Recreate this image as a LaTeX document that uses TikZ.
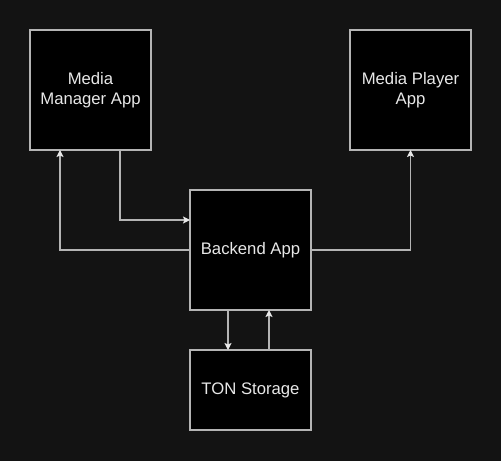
\documentclass[tikz,border=0pt]{standalone}
\usepackage{fontspec}
\setmainfont{Liberation Sans}
\usetikzlibrary{arrows.meta}

\definecolor{bgdark}{HTML}{131313}
\definecolor{edgegrey}{HTML}{B4B4B4}
\definecolor{labelwhite}{HTML}{E8E8E8}

\begin{document}
\begin{tikzpicture}[x=1pt,y=-1pt,
	appbox/.style={draw=edgegrey,fill=black,line width=1.3pt,text=labelwhite,
		minimum width=121pt,minimum height=120pt,inner sep=0pt,outer sep=0pt,
		align=center,font=\fontsize{16.7}{20}\selectfont},
	flow/.style={draw=edgegrey,line width=1.3pt,
		-{Stealth[length=7pt,width=7pt,inset=1.5pt,fill=labelwhite,color=labelwhite]}}]
	\fill[bgdark] (0,0) rectangle (501,461);
	\useasboundingbox (0,0) rectangle (501,461);
	\node[appbox] (MM) at (90.5,90) {Media\\Manager App};
	\node[appbox] (MP) at (410.5,90) {Media Player\\App};
	\node[appbox] (BE) at (250.5,250) {Backend App};
	\node[appbox,minimum height=80pt] (TS) at (250.5,390) {TON Storage};
	\draw[flow] ([xshift=29.5pt]MM.south) |- ([yshift=30pt]BE.west);
	\draw[flow] (BE.west) -| ([xshift=-30.5pt]MM.south);
	\draw[flow] (BE.east) -| (MP.south);
	\draw[flow] ([xshift=-22.5pt]BE.south) -- ([xshift=-22.5pt]TS.north);
	\draw[flow] ([xshift=18.5pt]TS.north) -- ([xshift=18.5pt]BE.south);
\end{tikzpicture}
\end{document}
